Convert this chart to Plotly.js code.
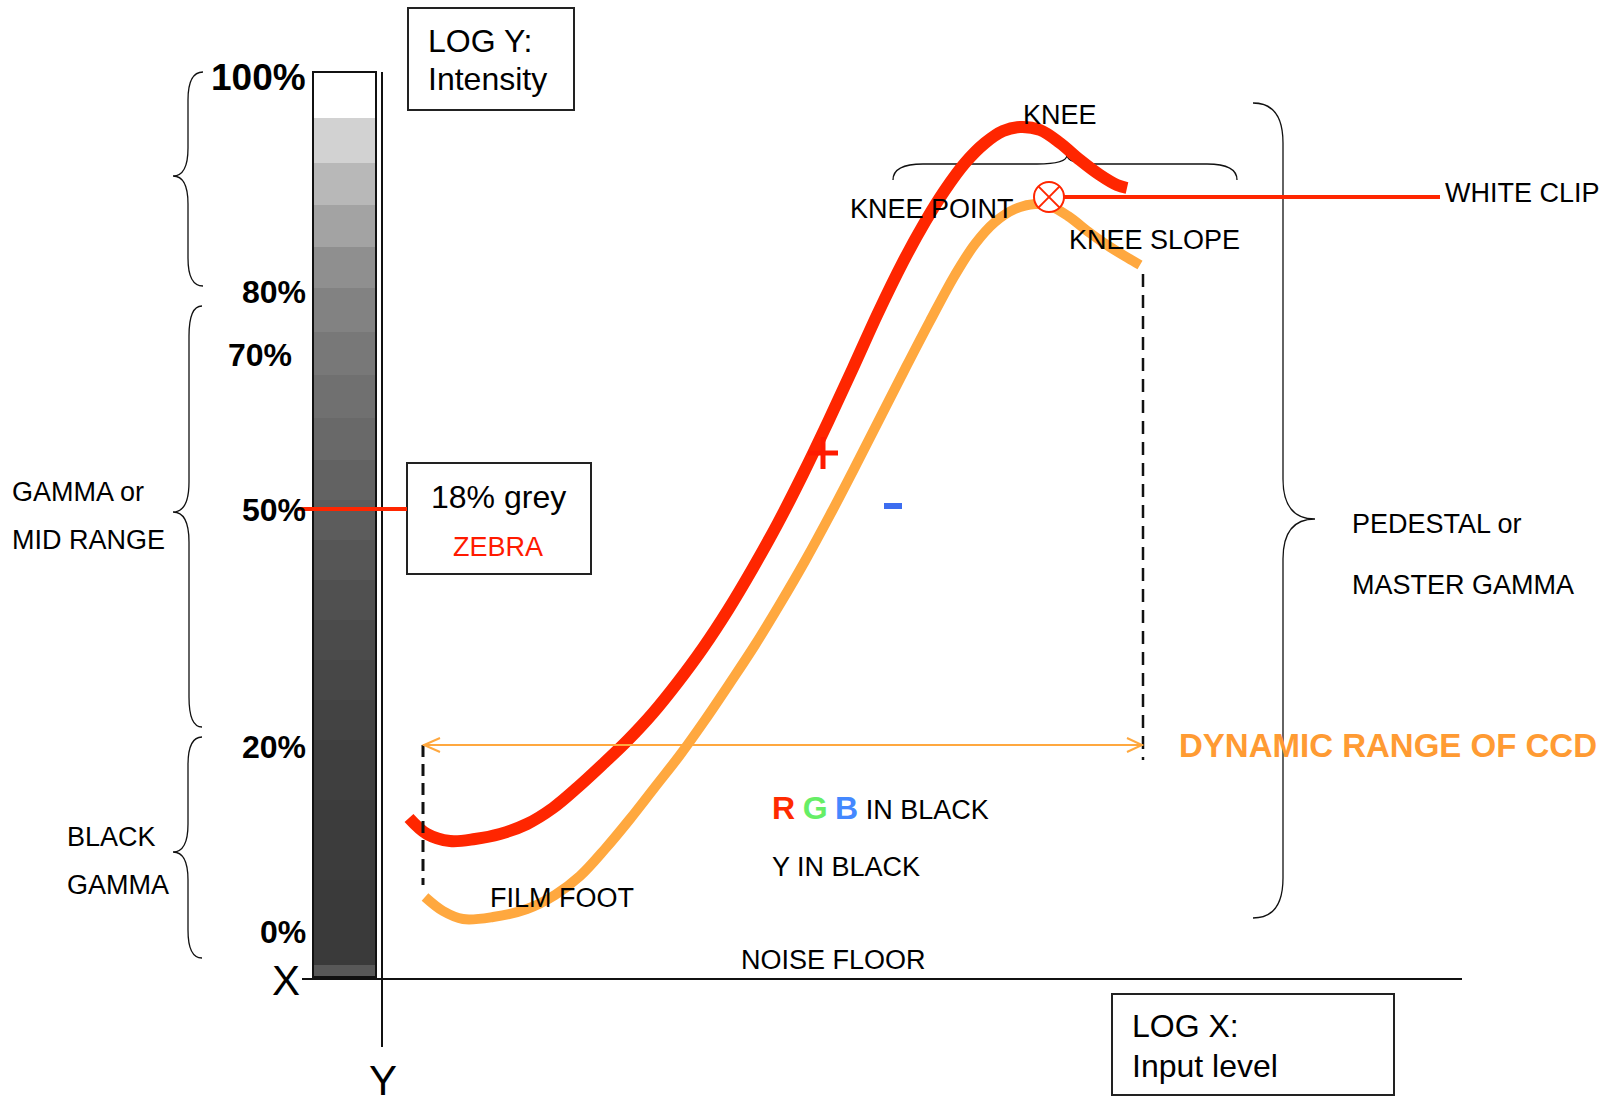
<!DOCTYPE html>
<html>
<head>
<meta charset="utf-8">
<script src="https://cdn.plot.ly/plotly-3.0.1.min.js"></script>
<style>html,body{margin:0;padding:0;background:#fff;}#chart{width:1609px;height:1104px;}</style>
</head>
<body>
<div id="chart"></div>
<script>
// ---- data (diagram units = reference pixels, y downward) ----
const redX = [409, 427, 450, 475, 500, 527, 553, 578, 603, 628, 653, 678, 703, 728, 753, 778, 803, 828, 853, 878, 903, 925, 945, 965, 985, 1003, 1020, 1040, 1060, 1080, 1100, 1117, 1127];
const redY = [818, 834, 841, 839, 834, 824, 808, 787, 764, 740, 713, 682, 648, 610, 568, 523, 474, 422, 368, 313, 262, 222, 190, 163, 143, 131, 127, 130, 143, 160, 175, 185, 188];
const orangeX = [425, 443, 463, 493, 527, 555, 580, 605, 630, 655, 680, 705, 730, 755, 780, 805, 830, 855, 880, 905, 930, 955, 975, 995, 1015, 1035, 1050, 1068, 1090, 1110, 1128, 1140];
const orangeY = [897, 911, 919, 917, 909, 895, 876, 849, 819, 787, 755, 720, 683, 645, 604, 561, 515, 467, 418, 369, 321, 275, 244, 222, 209, 204, 206, 216, 233, 247, 258, 265];

// grey step wedge: band edges and grey level (0-255)
const greyEdges  = [72, 118, 163, 205, 247, 288, 332, 375, 418, 460, 500, 540, 580, 620, 660, 700, 740, 800, 880, 965, 977];
const greyLevels = [255, 210, 184, 163, 143, 130, 120, 112, 105, 98, 92, 86, 80, 75, 71, 67, 63, 60, 58, 88];

const pctLabels = ['100%', '80%', '70%', '50%', '20%', '0%'];
const pctPos    = [77, 292, 355, 510, 747, 932];

const RED = '#ff2600', ORANGE = '#ffa83f', FONT = 'Liberation Sans, Arial, Helvetica, sans-serif';

const traces = [
  {type: 'heatmap', x: [313, 376], y: greyEdges, z: greyLevels.map(v => [v]),
   colorscale: [[0, 'rgb(0,0,0)'], [1, 'rgb(255,255,255)']], zmin: 0, zmax: 255,
   showscale: false, hoverinfo: 'skip'},
  {type: 'scatter', mode: 'lines', x: orangeX, y: orangeY, hoverinfo: 'skip',
   line: {color: ORANGE, width: 10, shape: 'spline', smoothing: 1, simplify: false}},
  {type: 'scatter', mode: 'lines', x: redX, y: redY, hoverinfo: 'skip',
   line: {color: RED, width: 12, shape: 'spline', smoothing: 1, simplify: false}}
];

function vbrace(xe, xb, xt, y0, yt, y1, c) {
  return `M ${xe},${y0} Q ${xb},${y0} ${xb},${y0 + c} L ${xb},${yt - c} Q ${xb},${yt} ${xt},${yt} ` +
         `Q ${xb},${yt} ${xb},${yt + c} L ${xb},${y1 - c} Q ${xb},${y1} ${xe},${y1}`;
}
function hbrace(y0, yb, yt, x0, xt, x1, c) {
  return `M ${x0},${y0} Q ${x0},${yb} ${x0 + c},${yb} L ${xt - c},${yb} Q ${xt},${yb} ${xt},${yt} ` +
         `Q ${xt},${yb} ${xt + c},${yb} L ${x1 - c},${yb} Q ${x1},${yb} ${x1},${y0}`;
}
const thin = {color: '#111', width: 1.3};
const shapes = [
  // braces
  {type: 'path', path: vbrace(203, 188, 173, 72, 176, 286, 28), line: thin, layer: 'below'},
  {type: 'path', path: vbrace(202, 189, 173, 306, 512, 727, 30), line: thin, layer: 'below'},
  {type: 'path', path: vbrace(202, 188, 173, 737, 852, 958, 28), line: thin, layer: 'below'},
  {type: 'path', path: vbrace(1253, 1283, 1315, 103, 519, 918, 40), line: thin, layer: 'below'},
  {type: 'path', path: hbrace(180, 164, 155, 893, 1067, 1237, 30), line: thin, layer: 'below'},
  // axes
  {type: 'line', x0: 382, x1: 382, y0: 72, y1: 1047, line: {color: '#111', width: 2}},
  {type: 'line', x0: 302, x1: 1462, y0: 979, y1: 979, line: {color: '#111', width: 2}},
  // wedge border
  {type: 'rect', x0: 313, x1: 376, y0: 72, y1: 977, line: {color: '#111', width: 2}},
  // boxes
  {type: 'rect', x0: 408, x1: 574, y0: 8, y1: 110, line: {color: '#222', width: 2}},
  {type: 'rect', x0: 407, x1: 591, y0: 463, y1: 574, line: {color: '#222', width: 2}},
  {type: 'rect', x0: 1112, x1: 1394, y0: 994, y1: 1095, line: {color: '#222', width: 2}},
  // red markers
  {type: 'line', x0: 298, x1: 407, y0: 509, y1: 509, line: {color: RED, width: 4}},
  {type: 'line', x0: 1064, x1: 1440, y0: 197, y1: 197, line: {color: RED, width: 4}},
  {type: 'circle', x0: 1034, x1: 1064, y0: 182, y1: 212, line: {color: RED, width: 2}, fillcolor: '#fff'},
  {type: 'line', x0: 1038.4, x1: 1059.6, y0: 186.4, y1: 207.6, line: {color: RED, width: 2}},
  {type: 'line', x0: 1038.4, x1: 1059.6, y0: 207.6, y1: 186.4, line: {color: RED, width: 2}},
  // dashed guides
  {type: 'line', x0: 423, x1: 423, y0: 745, y1: 885, line: {color: '#111', width: 3, dash: '12px,7px'}},
  {type: 'line', x0: 1143, x1: 1143, y0: 274, y1: 760, line: {color: '#111', width: 2.5, dash: '13px,8px'}},
  // dynamic range arrow
  {type: 'line', x0: 423, x1: 1143, y0: 745, y1: 745, line: {color: ORANGE, width: 2}},
  {type: 'path', path: 'M 440,738 L 424,745 L 440,752', line: {color: ORANGE, width: 2}},
  {type: 'path', path: 'M 1127,738 L 1142,745 L 1127,752', line: {color: ORANGE, width: 2}},
  // + and -
  {type: 'line', x0: 808, x1: 838, y0: 453, y1: 453, line: {color: '#ff1a00', width: 5}},
  {type: 'line', x0: 823, x1: 823, y0: 437, y1: 469, line: {color: '#ff1a00', width: 5}},
  {type: 'rect', x0: 884, x1: 902, y0: 503, y1: 509, line: {width: 0}, fillcolor: '#3c6df0'}
];

function txt(text, x, y, opt) {
  opt = opt || {};
  return {x: x, y: y, text: text, showarrow: false, xanchor: opt.xa || 'left', yanchor: 'middle',
          font: {family: FONT, size: opt.size || 27, color: opt.color || '#000'}};
}
const annotations = [];
pctLabels.forEach((t, i) => {
  annotations.push(txt('<b>' + t + '</b>', t === '70%' ? 294 : 308, pctPos[i],
                       {xa: 'right', size: t === '100%' ? 37 : 32}));
});
annotations.push(
  txt('LOG Y:', 426, 41, {size: 32}),
  txt('Intensity', 426, 79, {size: 32}),
  txt('18% grey', 498, 497, {size: 32, xa: 'center'}),
  txt('ZEBRA', 498, 547, {size: 27, xa: 'center', color: '#ff1a00'}),
  txt('LOG X:', 1130, 1026, {size: 32}),
  txt('Input level', 1130, 1066, {size: 32}),
  txt('X', 286, 980, {size: 42, xa: 'center'}),
  txt('Y', 383, 1080, {size: 42, xa: 'center'}),
  txt('KNEE', 1060, 115, {xa: 'center'}),
  txt('KNEE POINT', 848, 209),
  txt('KNEE SLOPE', 1067, 240),
  txt('WHITE CLIP', 1443, 193),
  txt('PEDESTAL or', 1350, 524),
  txt('MASTER GAMMA', 1350, 585),
  txt('GAMMA or', 10, 492),
  txt('MID RANGE', 10, 540),
  txt('BLACK', 65, 837),
  txt('GAMMA', 65, 885),
  txt('FILM FOOT', 488, 898),
  txt('NOISE FLOOR', 739, 960),
  txt('<b><span style="font-size:32px;color:#ff2a00">R</span> <span style="font-size:32px;color:#66ee66">G</span> <span style="font-size:32px;color:#4488ff">B</span></b> IN BLACK', 770, 808),
  txt('Y IN BLACK', 770, 867),
  txt('<b>DYNAMIC RANGE OF CCD</b>', 1177, 745, {size: 33, color: '#ff9b33'})
);

const layout = {
  width: 1609, height: 1104,
  margin: {l: 0, r: 0, t: 0, b: 0, pad: 0},
  paper_bgcolor: '#fff', plot_bgcolor: '#fff',
  showlegend: false,
  xaxis: {range: [0, 1609], visible: false, fixedrange: true},
  yaxis: {range: [1104, 0], visible: false, fixedrange: true},
  shapes: shapes,
  annotations: annotations
};
Plotly.newPlot('chart', traces, layout, {staticPlot: true, displayModeBar: false});
</script>
</body>
</html>
